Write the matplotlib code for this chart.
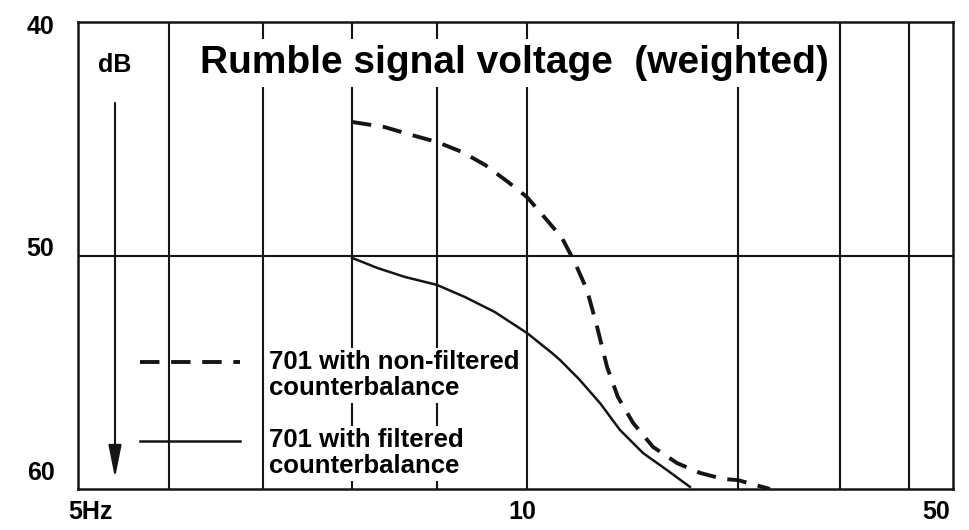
import matplotlib
matplotlib.use("Agg")
import matplotlib.pyplot as plt
import matplotlib.transforms as mtransforms
from matplotlib.legend_handler import HandlerLine2D
import numpy as np

plt.rcParams['font.family'] = ['Liberation Sans', 'DejaVu Sans']
plt.rcParams['font.weight'] = 'bold'

# frequency grid of the chart (Hz) and where each grid line sits along the axis
grid_freqs = [5, 6, 7, 8, 9, 10, 20, 30, 40, 50]
grid_pos = [0, 91, 185, 274, 359, 449, 660, 762, 831, 875]

x_ticks = [5, 10, 50]
x_tick_labels = ['5Hz', '10', '50']
y_ticks = [40, 50, 60]
y_tick_labels = ['40', '50', '60']

# 701 with non-filtered counterbalance (dashed)
nonfilt_f = [8.0, 8.37, 8.69, 9.0, 9.27, 9.52, 9.78, 10.0, 10.61, 11.22, 11.71,
             12.18, 12.59, 13.01, 13.48, 14.17, 15.13, 16.37, 17.65, 19.04,
             20.0, 22.7]
nonfilt_db = [44.28, 44.50, 44.84, 45.14, 45.57, 46.12, 46.85, 47.5, 48.39,
              49.25, 50.32, 51.48, 53.06, 54.78, 56.06, 57.17, 58.20, 58.89,
              59.31, 59.57, 59.62, 60.0]

# 701 with filtered counterbalance (solid)
filt_f = [8.0, 8.29, 8.61, 9.0, 9.30, 9.63, 10.0, 10.86, 11.15, 11.86, 12.71,
          13.57, 14.64, 15.84, 17.08]
filt_db = [50.1, 50.54, 50.92, 51.26, 51.78, 52.42, 53.32, 54.18, 54.48,
           55.29, 56.32, 57.47, 58.46, 59.19, 59.91]

legend_labels = ['701 with non-filtered\ncounterbalance',
                 '701 with filtered\ncounterbalance']

log_f = np.log10(grid_freqs)


def fwd(x):
    return np.interp(np.log10(np.maximum(x, 1e-9)), log_f, grid_pos)


def inv(p):
    return 10 ** np.interp(p, grid_pos, log_f)


class HandlerFirstLine(HandlerLine2D):
    # put the sample line level with the first line of a two-line label
    def create_artists(self, legend, orig_handle, xdescent, ydescent,
                       width, height, fontsize, trans):
        arts = super().create_artists(legend, orig_handle, xdescent, ydescent,
                                      width, height, fontsize, trans)
        for a in arts:
            a.set_ydata(np.asarray(a.get_ydata()) + 0.52 * fontsize)
        return arts


ink = '#151515'

fig = plt.figure(figsize=(9.7, 5.3), dpi=100)
ax = fig.add_axes([78 / 970, 41 / 530, 875 / 970, 467 / 530])
ax.set_xscale('function', functions=(fwd, inv))
ax.set_xlim(5, 50)
ax.set_ylim(60, 40)

for f in grid_freqs[1:-1]:
    ax.axvline(f, color=ink, lw=1.5, zorder=1)
ax.axhline(50, color=ink, lw=1.5, zorder=1)

for s in ax.spines.values():
    s.set_linewidth(1.8)
    s.set_color(ink)

ax.plot(nonfilt_f, nonfilt_db, color=ink, lw=2.8, linestyle=(0, (5, 3)),
        zorder=4, label=legend_labels[0])
ax.plot(filt_f, filt_db, color=ink, lw=1.8, zorder=4, label=legend_labels[1])

ax.set_xticks(x_ticks)
ax.set_xticklabels(x_tick_labels, fontsize=18, fontweight='bold')
ax.set_yticks(y_ticks)
ax.set_yticklabels(y_tick_labels, fontsize=18, fontweight='bold')
ax.tick_params(axis='both', length=0)
ax.tick_params(axis='x', pad=8)
ax.tick_params(axis='y', pad=17)
ax.minorticks_off()

# nudge tick labels the way the printed chart has them
xl = ax.get_xticklabels()
xl[0].set_ha('left')
xl[2].set_ha('right')
for lab, dx in zip(xl, [-10, -5, -3]):
    lab.set_transform(lab.get_transform() + mtransforms.ScaledTranslation(dx / 100, 0, fig.dpi_scale_trans))
for lab, dy in zip(ax.get_yticklabels(), [-5, 6, 16]):
    lab.set_va('center')
    lab.set_transform(lab.get_transform() + mtransforms.ScaledTranslation(0, dy / 100, fig.dpi_scale_trans))

ax.text(0.139, 0.891, 'Rumble signal voltage  (weighted)', transform=ax.transAxes,
        fontsize=28, fontweight='bold', ha='left', va='baseline', zorder=3,
        bbox=dict(boxstyle='square,pad=0.15', fc='white', ec='none'))

ax.text(0.0423, 0.908, 'dB', transform=ax.transAxes, fontsize=18,
        fontweight='bold', ha='center', va='center', zorder=3)
ax.annotate('', xy=(0.0423, 0.0236), xytext=(0.0423, 0.8266),
            xycoords='axes fraction', textcoords='axes fraction',
            arrowprops=dict(arrowstyle='-|>,head_length=2.0,head_width=0.4',
                            lw=1.5, color=ink, shrinkA=0, shrinkB=0))

leg = ax.legend(loc='upper left', bbox_to_anchor=(0.0709, 0.297), frameon=False,
                fontsize=18.5, handlelength=3.9, handletextpad=1.1,
                labelspacing=1.1, borderpad=0, borderaxespad=0,
                handler_map={matplotlib.lines.Line2D: HandlerFirstLine()})
for t in leg.get_texts():
    t.set_fontweight('bold')
    t.set_linespacing(1.1)
    t.set_bbox(dict(boxstyle='square,pad=0.1', fc='white', ec='none'))

fig.savefig('out.png', dpi=100, facecolor='white')
